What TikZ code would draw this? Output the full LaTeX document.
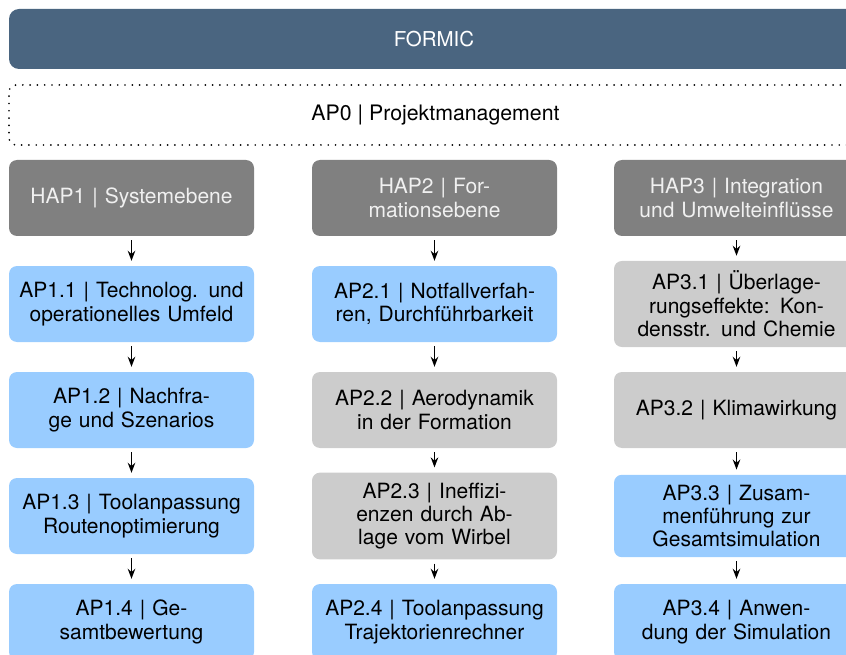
\documentclass[tikz,border=0pt]{standalone}
\usepackage{fontspec}
\setmainfont{TeX Gyre Heros}
\usetikzlibrary{arrows.meta}

\definecolor{barblue}{HTML}{4A6580}
\definecolor{hapgrey}{HTML}{808080}
\definecolor{apblue}{HTML}{99CCFF}
\definecolor{apgrey}{HTML}{CCCCCC}

\tikzset{
  boxfont/.style={font=\fontsize{21}{23.4}\selectfont},
  box/.style={boxfont, rounded corners=8pt, minimum width=245pt, minimum height=76pt,
    inner xsep=8pt, inner ysep=10pt, text width=229pt, align=center},
  hap/.style={box, fill=hapgrey, text=white!94!black},
  apb/.style={box, fill=apblue, text=black},
  apg/.style={box, fill=apgrey, text=black},
  flow/.style={-{Stealth[length=10pt,width=7.5pt]}, line width=1.6pt,
    shorten <=4pt, shorten >=5pt}
}

\begin{document}
\begin{tikzpicture}[x=1pt, y=-1pt]
  \useasboundingbox (0,0) rectangle (846,655);

  % project header and management work package
  \node[font=\fontsize{20.5}{23.4}\selectfont, rounded corners=10pt, fill=barblue, text=white,
        minimum width=850pt, minimum height=60pt] (formic) at (434,39) {FORMIC};
  \node[font=\fontsize{21.3}{23.4}\selectfont, draw=black, line width=1.9pt, line cap=round,
        dash pattern=on 0pt off 7.3pt, rounded corners=7pt,
        minimum width=853pt, minimum height=60pt] (ap0) at (435.5,115) {AP0 | Projektmanagement};

  % column 1
  \node[hap] (hap1) at (131.5,198) {HAP1 | Systemebene};
  \node[apb] (ap11) at (131.5,304) {AP1.1 | Technolog. und\\operationelles Umfeld};
  \node[apb] (ap12) at (131.5,410) {AP1.2 | Nachfra-\\ge und Szenarios};
  \node[apb] (ap13) at (131.5,516) {AP1.3 | Toolanpassung\\Routenoptimierung};
  \node[apb] (ap14) at (131.5,622) {AP1.4 | Ge-\\samtbewertung};

  % column 2
  \node[hap] (hap2) at (434.5,198) {HAP2 | For-\\mationsebene};
  \node[apb] (ap21) at (434.5,304) {AP2.1 | Notfallverfah-\\ren, Durchführbarkeit};
  \node[apg] (ap22) at (434.5,410) {AP2.2 | Aerodynamik\\in der Formation};
  \node[apg] (ap23) at (434.5,516) {AP2.3 | Ineffizi-\\enzen durch Ab-\\lage vom Wirbel};
  \node[apb] (ap24) at (434.5,622) {AP2.4 | Toolanpassung\\Trajektorienrechner};

  % column 3
  \node[hap] (hap3) at (736.5,198) {HAP3 | Integration\\und Umwelteinflüsse};
  \node[apg] (ap31) at (736.5,304) {AP3.1 | Überlage-\\rungseffekte: Kon-\\densstr. und Chemie};
  \node[apg] (ap32) at (736.5,410) {AP3.2 | Klimawirkung};
  \node[apb] (ap33) at (736.5,516) {AP3.3 | Zusam-\\menführung zur\\Gesamtsimulation};
  \node[apb] (ap34) at (736.5,622) {AP3.4 | Anwen-\\dung der Simulation};

  % sequence arrows
  \foreach \c in {1,2,3} {
    \draw[flow] (hap\c) -- (ap\c1);
    \draw[flow] (ap\c1) -- (ap\c2);
    \draw[flow] (ap\c2) -- (ap\c3);
    \draw[flow] (ap\c3) -- (ap\c4);
  }
\end{tikzpicture}
\end{document}
